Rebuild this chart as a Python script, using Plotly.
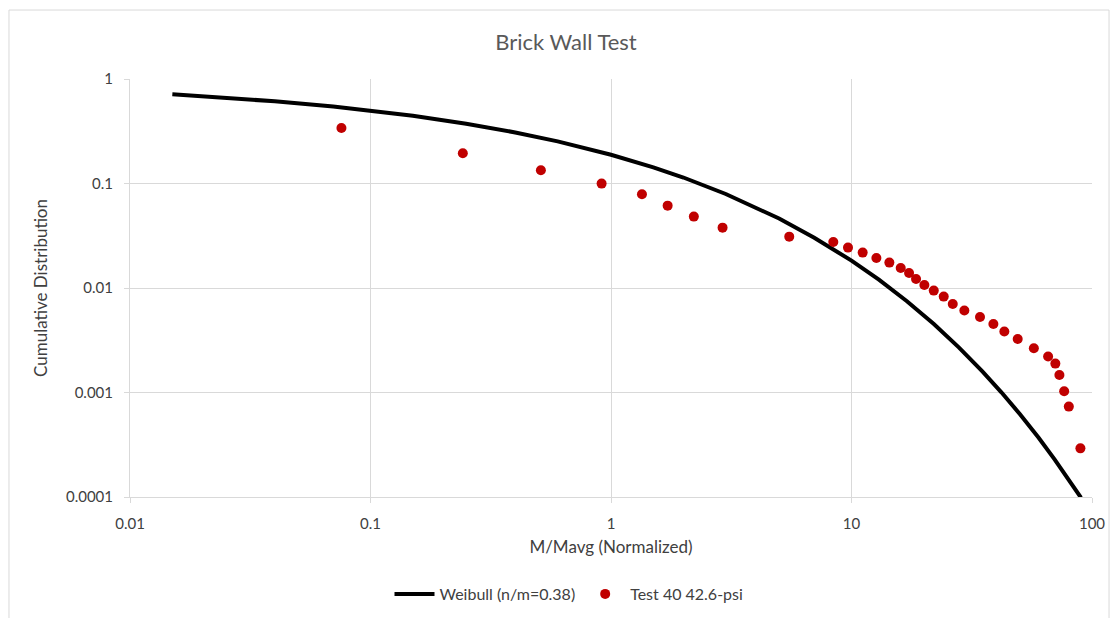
import plotly.graph_objects as go

# Weibull reference curve (n/m = 0.38), sampled along its length
weibull_x = [0.015, 0.025, 0.04, 0.07, 0.1, 0.15, 0.25, 0.4, 0.6, 1, 1.5, 2, 3, 4, 5, 7,
             10, 13, 17, 22, 28, 35, 42, 50, 60, 70, 80, 90]
weibull_y = [0.713, 0.663, 0.612, 0.5448, 0.4988, 0.4442, 0.3734, 0.3080, 0.2531, 0.1885,
             0.1428, 0.1141, 0.0794, 0.0593, 0.0462, 0.0303, 0.01827, 0.01201, 0.00747,
             0.00452, 0.00269, 0.00159, 0.001004, 0.000625, 0.000369, 0.000228, 0.000147,
             0.0000985]

# Test 40 at 42.6 psi: normalized moment vs cumulative distribution
test_x = [0.0757, 0.242, 0.511, 0.914, 1.345, 1.72, 2.21, 2.91, 5.51, 8.40, 9.67, 11.13,
          12.69, 14.37, 16.02, 17.35, 18.55, 20.09, 21.98, 24.18, 26.36, 29.46, 34.23,
          38.9, 43.2, 49.1, 57.3, 65.7, 70.4, 73.2, 76.6, 80.1, 89.5]
test_y = [0.340, 0.1945, 0.1337, 0.0998, 0.0788, 0.0614, 0.0482, 0.0378, 0.0310, 0.02756,
          0.02435, 0.02182, 0.01937, 0.0175, 0.01553, 0.01391, 0.0122, 0.01069, 0.00944,
          0.00827, 0.00703, 0.00608, 0.00528, 0.00452, 0.00383, 0.00325, 0.00265, 0.00221,
          0.00189, 0.00147, 0.001027, 0.000733, 0.000292]

x_ticks = [0.01, 0.1, 1, 10, 100]
x_tick_text = ["0.01", "0.1", "1", "10", "100"]
y_ticks = [0.0001, 0.001, 0.01, 0.1, 1]
y_tick_text = ["0.0001", "0.001", "0.01", "0.1", "1"]

FONT = "Lato, 'Open Sans', sans-serif"
GRID = "#d9d9d9"
TEXT = "#404040"

fig = go.Figure()
fig.add_trace(go.Scatter(
    x=weibull_x, y=weibull_y, mode="lines", name="Weibull (n/m=0.38)",
    line=dict(color="black", width=4),
))
fig.add_trace(go.Scatter(
    x=test_x, y=test_y, mode="markers", name="Test 40 42.6-psi",
    marker=dict(color="#c00000", size=10, line=dict(width=0)),
))

axis_common = dict(
    type="log", showgrid=True, gridcolor=GRID, gridwidth=1,
    showline=True, linecolor=GRID, linewidth=1,
    ticks="outside", ticklen=5, tickcolor=GRID,
    tickfont=dict(family=FONT, size=15, color=TEXT),
    ticklabelstandoff=8,
    zeroline=False,
)

fig.update_xaxes(
    **axis_common, range=[-2, 2], tickvals=x_ticks, ticktext=x_tick_text,
    title=dict(text="M/Mavg (Normalized)", font=dict(family=FONT, size=17, color=TEXT), standoff=10),
)
fig.update_yaxes(
    **axis_common, range=[-4, 0], tickvals=y_ticks, ticktext=y_tick_text,
    title=dict(text="Cumulative Distribution", font=dict(family=FONT, size=17, color=TEXT), standoff=14),
)

fig.update_layout(
    width=1119, height=618,
    margin=dict(l=130, r=27, t=79, b=121),
    paper_bgcolor="white", plot_bgcolor="white",
    title=dict(text="Brick Wall Test", x=566 / 1119, xref="container", xanchor="center",
               y=1 - 42 / 618, yref="container", yanchor="middle",
               font=dict(family=FONT, size=22, color="#595959")),
    showlegend=True,
    legend=dict(orientation="h", x=569 / 1119, xref="container", xanchor="center",
                y=1 - 594 / 618, yref="container", yanchor="middle",
                font=dict(family=FONT, size=16, color=TEXT),
                bgcolor="rgba(0,0,0,0)", itemwidth=40),
    shapes=[dict(type="rect", xref="paper", yref="paper",
                 x0=-0.1258, x1=1.0177, y0=-0.31, y1=1.165,
                 line=dict(color=GRID, width=1), fillcolor="rgba(0,0,0,0)", layer="below")],
)

fig.write_html("out.html")
